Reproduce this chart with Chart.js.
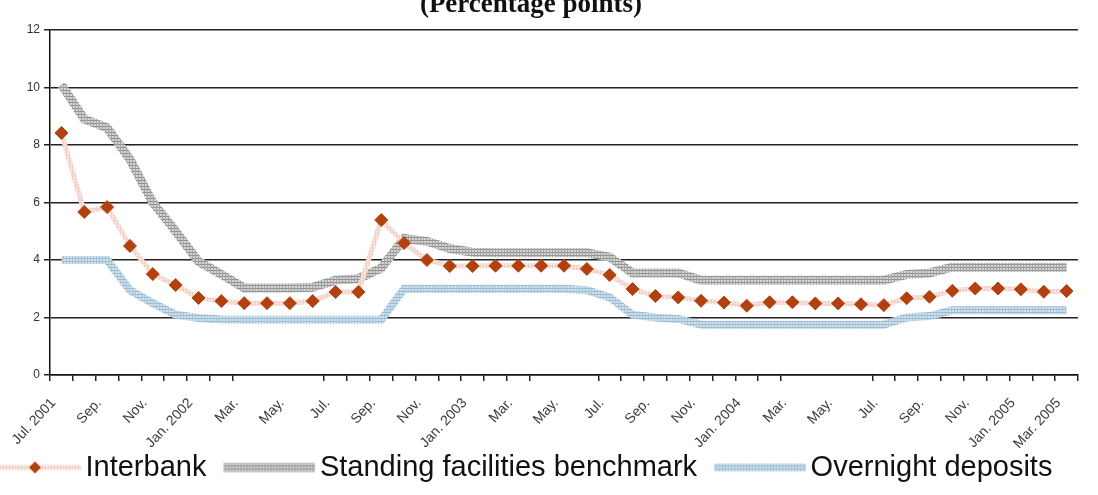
<!DOCTYPE html>
<html>
<head>
<meta charset="utf-8">
<script src="https://cdn.jsdelivr.net/npm/chart.js@4.4.0/dist/chart.umd.min.js"></script>
<style>
  html, body { margin: 0; padding: 0; background: #fff; overflow: hidden; }
  #wrap { position: relative; width: 1098px; height: 495px; }
  #title { position: absolute; left: 0; top: -10px; width: 1062px; text-align: center;
           font: bold 27px/27px 'Liberation Serif', 'Times New Roman', serif; color: #111; white-space: nowrap; }
</style>
</head>
<body>
<div id="wrap">
  <canvas id="chart"></canvas>
  <div id="title">(Percentage points)</div>
</div>
<script>
// monthly, Jul 2001 - Mar 2005
const months = [
  'Jul. 2001', 'Aug. 2001', 'Sep. 2001', 'Oct. 2001', 'Nov. 2001', 'Dec. 2001',
  'Jan. 2002', 'Feb. 2002', 'Mar. 2002', 'Apr. 2002', 'May. 2002', 'Jun. 2002',
  'Jul. 2002', 'Aug. 2002', 'Sep. 2002', 'Oct. 2002', 'Nov. 2002', 'Dec. 2002',
  'Jan. 2003', 'Feb. 2003', 'Mar. 2003', 'Apr. 2003', 'May. 2003', 'Jun. 2003',
  'Jul. 2003', 'Aug. 2003', 'Sep. 2003', 'Oct. 2003', 'Nov. 2003', 'Dec. 2003',
  'Jan. 2004', 'Feb. 2004', 'Mar. 2004', 'Apr. 2004', 'May. 2004', 'Jun. 2004',
  'Jul. 2004', 'Aug. 2004', 'Sep. 2004', 'Oct. 2004', 'Nov. 2004', 'Dec. 2004',
  'Jan. 2005', 'Feb. 2005', 'Mar. 2005'
];
const tickLabels = [
  'Jul. 2001', '', 'Sep.', '', 'Nov.', '',
  'Jan. 2002', '', 'Mar.', '', 'May.', '',
  'Jul.', '', 'Sep.', '', 'Nov.', '',
  'Jan. 2003', '', 'Mar.', '', 'May.', '',
  'Jul.', '', 'Sep.', '', 'Nov.', '',
  'Jan. 2004', '', 'Mar.', '', 'May.', '',
  'Jul.', '', 'Sep.', '', 'Nov.', '',
  'Jan. 2005', '', 'Mar. 2005'
];
const interbank = [8.42, 5.67, 5.84, 4.49, 3.51, 3.13, 2.68, 2.57, 2.50, 2.50, 2.50, 2.57,
  2.89, 2.89, 5.39, 4.59, 4.00, 3.79, 3.79, 3.80, 3.80, 3.80, 3.80, 3.69,
  3.48, 2.99, 2.75, 2.70, 2.58, 2.52, 2.41, 2.53, 2.53, 2.49, 2.49, 2.46,
  2.43, 2.67, 2.72, 2.93, 3.01, 3.01, 2.98, 2.90, 2.92];
const standing = [10.1, 8.9, 8.6, 7.5, 6.0, 5.0, 3.95, 3.5, 3.03, 3.03, 3.03, 3.05,
  3.3, 3.35, 3.72, 4.75, 4.65, 4.4, 4.27, 4.25, 4.25, 4.25, 4.25, 4.25,
  4.1, 3.55, 3.55, 3.55, 3.3, 3.3, 3.3, 3.3, 3.3, 3.3, 3.3, 3.3,
  3.3, 3.5, 3.55, 3.75, 3.75, 3.75, 3.75, 3.75, 3.75];
const overnight = [4.0, 4.0, 4.0, 2.95, 2.5, 2.1, 1.98, 1.93, 1.92, 1.92, 1.92, 1.92,
  1.92, 1.92, 1.92, 3.0, 3.0, 3.0, 3.0, 3.0, 3.0, 3.0, 3.0, 2.95,
  2.7, 2.1, 2.0, 1.95, 1.75, 1.75, 1.75, 1.75, 1.75, 1.75, 1.75, 1.75,
  1.75, 2.0, 2.05, 2.25, 2.25, 2.25, 2.25, 2.25, 2.25];
const seriesNames = ['Interbank', 'Standing facilities benchmark', 'Overnight deposits'];

// tick marks the original axis leaves out
const hiddenTicks = [9, 10, 11, 22, 23, 33, 34, 35];
const font = "'Liberation Sans', Arial, sans-serif";

// hatched strokes like the old spreadsheet export
function makePattern(bg, row, col, w, h) {
  const c = document.createElement('canvas');
  c.width = w; c.height = h;
  const g = c.getContext('2d');
  g.fillStyle = bg; g.fillRect(0, 0, w, h);
  g.fillStyle = row; g.fillRect(0, 0, w, 1);
  g.fillStyle = col; g.fillRect(0, 0, 1, h);
  return g.createPattern(c, 'repeat');
}
const peach = makePattern('#f5dbd2', '#fbece7', '#f0cfc4', 3, 3);
const grey = makePattern('#d4d4d4', '#8e8e8e', '#a4a4a4', 3, 3);
const blue = makePattern('#d0e2ee', '#98b9d0', '#a9c5d9', 3, 3);

const diamond = '#b3410f';

function makeSwatch(stroke, lw, withDiamond) {
  const c = document.createElement('canvas');
  c.width = 105; c.height = 16;
  const g = c.getContext('2d');
  g.fillStyle = stroke;
  g.fillRect(13, 8 - lw / 2, 92, lw);
  if (withDiamond) {
    g.fillStyle = diamond;
    g.beginPath();
    g.moveTo(59, 2); g.lineTo(65, 8); g.lineTo(59, 14); g.lineTo(53, 8);
    g.closePath(); g.fill();
  }
  return c;
}
const swatches = [makeSwatch(peach, 5, true), makeSwatch(grey, 9, false), makeSwatch(blue, 8, false)];

// nudge the legend row: start it off the left edge and lift it closer to the axis labels
const legendShift = {
  id: 'legendShift',
  afterLayout(chart) {
    chart.legend.left = -28;
    chart.legend.top -= 16;
  }
};

new Chart(document.getElementById('chart'), {
  type: 'line',
  data: {
    labels: months,
    datasets: [
      {
        label: seriesNames[0], data: interbank,
        borderColor: peach, borderWidth: 5,
        pointStyle: 'rectRot', pointRadius: 6.5,
        pointBackgroundColor: diamond, pointBorderColor: diamond, pointBorderWidth: 1
      },
      {
        label: seriesNames[1], data: standing,
        borderColor: grey, borderWidth: 9, pointRadius: 0
      },
      {
        label: seriesNames[2], data: overnight,
        borderColor: blue, borderWidth: 8, pointRadius: 0
      }
    ]
  },
  options: {
    responsive: true,
    maintainAspectRatio: false,
    animation: false,
    devicePixelRatio: 1,
    events: [],
    elements: { line: { tension: 0 } },
    layout: { padding: { top: 30, right: 0, bottom: -13, left: 0 } },
    plugins: {
      tooltip: { enabled: false },
      legend: {
        position: 'bottom',
        align: 'start',
        labels: {
          usePointStyle: true,
          pointStyleWidth: 85,
          boxHeight: 29,
          padding: 14,
          color: '#111',
          font: { family: font, size: 29 },
          generateLabels(chart) {
            const items = Chart.defaults.plugins.legend.labels.generateLabels(chart);
            items.forEach((it, i) => { it.pointStyle = swatches[i]; });
            return items;
          }
        }
      }
    },
    scales: {
      x: {
        offset: true,
        grid: {
          offset: true, drawOnChartArea: false, tickLength: 6, lineWidth: 1.5,
          color: ctx => hiddenTicks.includes(ctx.index) ? 'rgba(0,0,0,0)' : '#222'
        },
        border: { color: '#111', width: 1.5 },
        ticks: {
          autoSkip: false, minRotation: 47, maxRotation: 47, padding: 14, labelOffset: -8,
          color: '#3a3a3a', font: { family: font, size: 14 },
          callback: (v, i) => tickLabels[i]
        },
        afterFit(s) { s.height = 80; }
      },
      y: {
        min: 0, max: 12,
        grid: { color: '#222', lineWidth: 1.5, tickLength: 6 },
        border: { color: '#111', width: 1.5 },
        ticks: { stepSize: 2, padding: 4, color: '#333', font: { family: font, size: 12 } },
        afterFit(s) { s.width = 50; }
      },
      // empty right-hand spacer so the plot ends where the original does
      spacer: {
        type: 'linear', position: 'right', display: true,
        grid: { display: false }, border: { display: false }, ticks: { display: false },
        afterFit(s) { s.width = 20; }
      }
    }
  },
  plugins: [legendShift]
});
</script>
</body>
</html>
